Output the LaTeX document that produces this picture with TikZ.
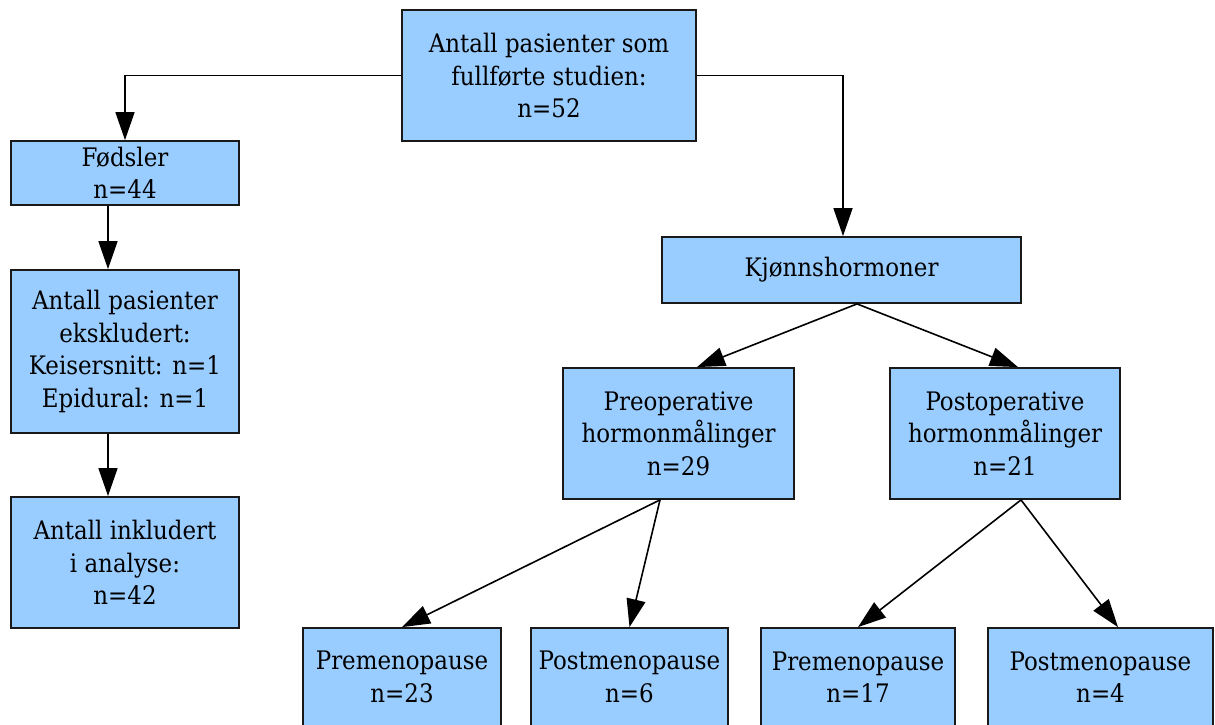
\documentclass[tikz,border=0pt]{standalone}
\usepackage{fontspec}
\setmainfont{DejaVu Serif Condensed}
\usetikzlibrary{arrows.meta}
\definecolor{boxblue}{HTML}{99CCFF}
\begin{document}
\begin{tikzpicture}[x=1pt,y=-1pt,
  box/.style={draw=black!90, line width=1.8pt, fill=boxblue, align=center, inner sep=0pt,
    font=\fontsize{25.5}{32.5}\selectfont},
  conn/.style={line width=1.6pt, -{Triangle[length=28pt,width=19pt]}}]
\useasboundingbox (0,0) rectangle (1215,724);
\clip (0,0) rectangle (1215,724);
\node[box, minimum width=294pt, minimum height=131pt] (top) at (549,75.5) {Antall pasienter som\\fullførte studien:\\n=52};
\node[box, minimum width=228pt, minimum height=64pt] (fod) at (125,173) {Fødsler\\n=44};
\node[box, minimum width=228pt, minimum height=163pt] (eks) at (125,351.5) {Antall pasienter\\ekskludert:\\Keisersnitt: n=1\\Epidural: n=1};
\node[box, minimum width=228pt, minimum height=131pt] (ink) at (125,562.5) {Antall inkludert\\i analyse:\\n=42};
\node[box, minimum width=359pt, minimum height=66pt] (kjo) at (841.5,270) {Kjønnshormoner};
\node[box, minimum width=231pt, minimum height=131pt] (pre) at (678.5,433.5) {Preoperative\\hormonmålinger\\n=29};
\node[box, minimum width=230pt, minimum height=131pt] (post) at (1005,433.5) {Postoperative\\hormonmålinger\\n=21};
\node[box, minimum width=198pt, minimum height=98pt] (pm1) at (402,677) {Premenopause\\n=23};
\node[box, minimum width=197pt, minimum height=98pt] (po1) at (629.5,677) {Postmenopause\\n=6};
\node[box, minimum width=194pt, minimum height=98pt] (pm2) at (858,677) {Premenopause\\n=17};
\node[box, minimum width=225pt, minimum height=98pt] (po2) at (1100.5,677) {Postmenopause\\n=4};
\draw[conn] (top.west) -| (fod.north);
\draw[conn] (top.east) -| ([xshift=1.5pt]kjo.north);
\draw[conn] ([xshift=-17pt]fod.south) -- ([xshift=-17pt]eks.north);
\draw[conn] ([xshift=-17pt]eks.south) -- ([xshift=-17pt]ink.north);
\draw[conn] ([xshift=15.5pt]kjo.south) -- ([xshift=18.5pt]pre.north);
\draw[conn] ([xshift=15.5pt]kjo.south) -- ([xshift=13pt]post.north);
\draw[conn] ([xshift=-18.5pt]pre.south) -- (pm1.north);
\draw[conn] ([xshift=-18.5pt]pre.south) -- (po1.north);
\draw[conn] ([xshift=16pt]post.south) -- (pm2.north);
\draw[conn] ([xshift=16pt]post.south) -- ([xshift=17.5pt]po2.north);
\end{tikzpicture}
\end{document}
